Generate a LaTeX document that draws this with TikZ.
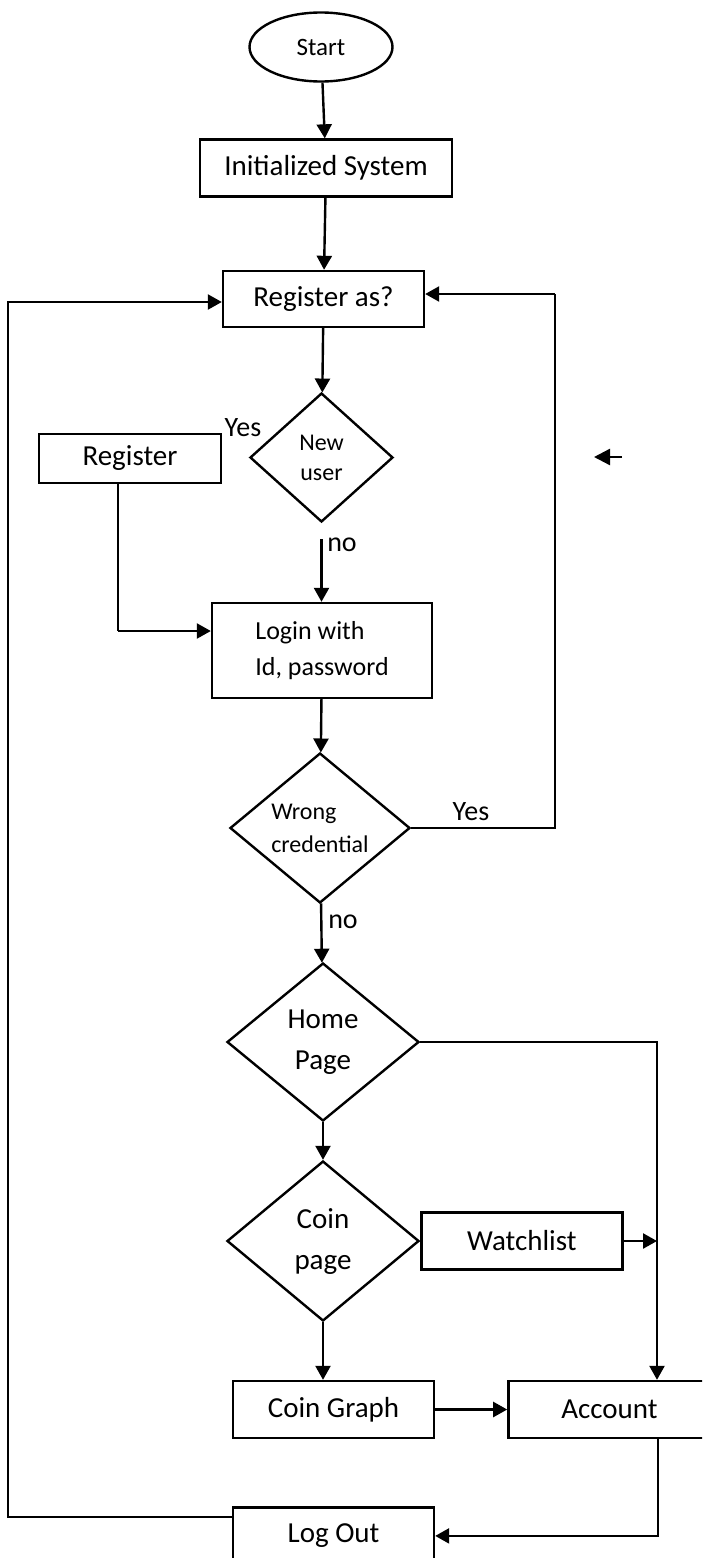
\documentclass[tikz,border=0pt]{standalone}
\usepackage{fontspec}
\setmainfont{Carlito}
\usetikzlibrary{positioning,arrows.meta,shapes}

\begin{document}
\begin{tikzpicture}[ x = 0.5pt, y = -0.5pt, > = {Triangle[length=7pt,width=7.5pt]}, line width = 1.2pt,
box/.style={ rectangle, draw, minimum width = 100.5pt, minimum height = 28.5pt, font = \fontsize{14.5}{17}\selectfont },
decision/.style={ diamond, draw, inner sep = 0pt, minimum width = 96pt, minimum height = 79pt, align = center, font = \fontsize{14.5}{20.5}\selectfont },
lbl/.style={ inner sep = 0pt, font = \fontsize{14}{17}\selectfont },
thinline/.style={ line width = 0.7pt }
]
\useasboundingbox (0,0) rectangle (702,1558);
\clip (0,0) rectangle (702,1558);
%create the nodes and link them with arrows
\node (start) at (321,47) [ellipse, draw, minimum width = 71.5pt, minimum height = 34.5pt, font = \fontsize{12.5}{15}\selectfont] {Start};
\node (init) at (326,168) [box, minimum width = 126pt] {Initialized System}
	edge [<-] (start);
\node (regas) at (323.5,299) [box, minimum height = 28pt] {Register as?}
	edge [<-] (init);
\node (newuser) at (321.5,457.5) [decision, minimum width = 71.5pt, minimum height = 64.5pt, font = \fontsize{12}{15}\selectfont] {New\\user}
	edge [<-] (regas);
\node (register) at (130,458.5) [box, minimum width = 91pt, minimum height = 24.5pt] {Register};
\node (login) at (322,650.5) [box, minimum width = 110pt, minimum height = 47.5pt, align = left, font = \fontsize{13}{18}\selectfont] {Login with\\Id, password};
\draw [->, shorten <= 8pt] (newuser.south) -- (newuser.south |- login.north);
\node (wrong) at (320,828) [decision, minimum width = 90pt, minimum height = 75pt, align = left, font = \fontsize{12}{16.5}\selectfont] {Wrong\\credential}
	edge [<-] (login);
\node (home) at (323,1042) [decision] {Home\\Page}
	edge [<-] (wrong);
\node (coin) at (323,1241) [decision, minimum height = 80pt] {Coin\\page}
	edge [<-] (home);
\node (watch) [box, right = 0pt of coin] {Watchlist};
\node (graph) at (333.5,1409.5) [box] {Coin Graph};
\draw [->] (coin.south) -- (coin.south |- graph.north);
\node (account) [box, right = 36pt of graph, minimum width = 101pt] {Account}
	edge [<-] (graph);
\node (logout) [box, below = 33.5pt of graph] {Log Out};

%yes / no labels
\node (yes1) at (243,428) [lbl] {Yes};
\node (no1) at (342,545) [lbl] {no};
\node (yes2) at (471,812) [lbl] {Yes};
\node (no2) at (343,922) [lbl] {no};

%loops and side branches
\coordinate (regbend) at (118,631);
\draw [thinline] (register.south -| regbend) -- (regbend);
\draw [->] (regbend) -- (regbend -| login.west);
\coordinate (rloopB) at (555,828);
\coordinate (rloopT) at (555,294);
\draw [thinline] (wrong.east) -- (rloopB) -- (rloopT);
\draw [->] (rloopT) -- (rloopT -| regas.east);
\coordinate (rail) at (657,1042);
\draw [->] (home.east) -| (rail |- account.north);
\draw [->] (watch.east) -- (watch.east -| rail);
\coordinate (abend) at (658,1534);
\draw [->] (account.south -| abend) |- (logout.east);
\coordinate (lloopB) at (8,1517);
\coordinate (lloopT) at (8,302);
\draw [->] (lloopB -| logout.west) -- (lloopB) -- (lloopT) -- (lloopT -| regas.west);
\coordinate (strayA) at (622,457);
\coordinate (strayB) at (594,457);
\draw [->, > = {Triangle[length=8pt,width=8pt]}] (strayA) -- (strayB);
\end{tikzpicture}
\end{document}
